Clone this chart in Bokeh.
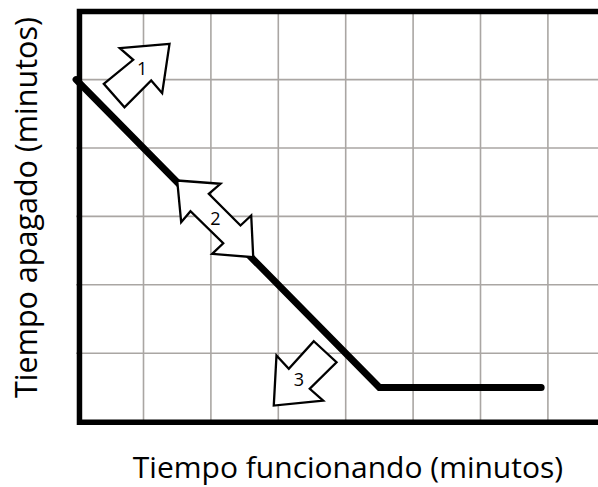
from bokeh.plotting import figure
from bokeh.models import Range1d
from bokeh.core.properties import value
from bokeh.embed import file_html
from bokeh.resources import INLINE

# ---- data (grid-cell units) ----
run_time = [0, 4.5, 6.9]          # Tiempo funcionando
off_time = [5, 0.5, 0.5]          # Tiempo apagado

grid_x = [1, 2, 3, 4, 5, 6, 7]
grid_y = [1, 2, 3, 4, 5]
x_max = 8.0
y_max = 6.0

arrow1_x = [1.386, 0.648, 0.847, 0.411, 0.718, 1.114, 1.277]
arrow1_y = [5.523, 5.459, 5.289, 4.939, 4.596, 4.987, 4.801]
arrow2_x = [1.50, 2.142, 1.969, 2.439, 2.598, 2.628, 2.019, 2.183, 1.697, 1.559]
arrow2_y = [3.525, 3.477, 3.330, 2.867, 3.013, 2.404, 2.453, 2.608, 3.076, 2.915]
arrow3_x = [3.527, 3.864, 3.467, 3.666, 2.933, 2.973, 3.156]
arrow3_y = [1.175, 0.868, 0.480, 0.308, 0.235, 0.966, 0.772]

arrow_labels = ["1", "2", "3"]
label_x = [0.981, 2.068, 3.304]
label_y = [5.158, 2.965, 0.611]

x_title = "Tiempo funcionando (minutos)"
y_title = "Tiempo apagado (minutos)"

FONT = "Open Sans"

p = figure(width=598, height=487, output_backend="svg", toolbar_location=None,
           x_range=Range1d(-1.1217, 7.7507), y_range=Range1d(-0.9635, 6.1564),
           min_border_left=0, min_border_right=0, min_border_top=0,
           min_border_bottom=0)
p.outline_line_color = None
p.background_fill_color = "white"
p.border_fill_color = "white"
p.xaxis.visible = False
p.yaxis.visible = False
p.xgrid.visible = False
p.ygrid.visible = False

GRID = "#aaa6a3"
# grid lines
p.segment(x0=grid_x, y0=[0] * len(grid_x), x1=grid_x, y1=[y_max] * len(grid_x),
          line_color=GRID, line_width=1.6)
p.segment(x0=[0] * len(grid_y), y0=grid_y, x1=[x_max] * len(grid_y), y1=grid_y,
          line_color=GRID, line_width=1.6)

# border (left, top, bottom)
p.line([x_max, 0.05, 0.05, x_max], [5.995, 5.995, -0.01, -0.01],
       line_color="black", line_width=5.5, line_join="miter")

# main line
p.line(run_time, off_time, line_color="black", line_width=7,
       line_join="miter", line_cap="round")

# arrows
for ax, ay in ((arrow1_x, arrow1_y), (arrow2_x, arrow2_y), (arrow3_x, arrow3_y)):
    p.patch(ax, ay, fill_color="white", line_color="black", line_width=2.3,
            line_join="miter")

p.text(label_x, label_y, text=arrow_labels, text_font=value(FONT),
       text_font_size="18px", text_align="center", text_baseline="middle",
       text_color="black")

p.text([4.034], [-0.66], text=[x_title], text_font=value(FONT),
       text_font_size="30px", text_align="center",
       text_baseline="alphabetic", text_color="black")
p.text([-0.755], [3.13], text=[y_title], text_font=value(FONT),
       text_font_size="30.5px", text_align="center",
       text_baseline="alphabetic", angle=1.5707963, text_color="black")

open("out.html", "w").write(file_html(p, INLINE))
